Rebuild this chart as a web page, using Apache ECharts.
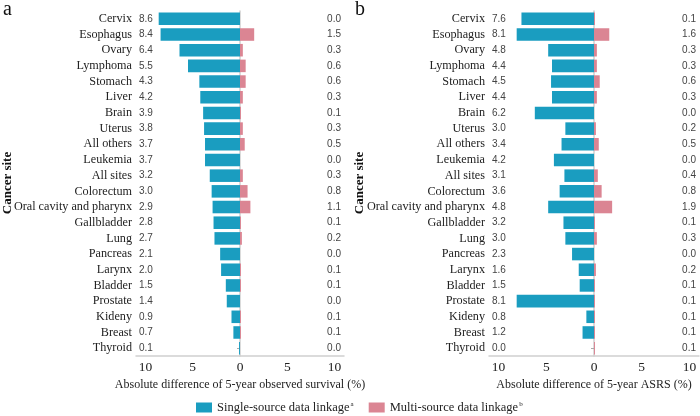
<!DOCTYPE html>
<html>
<head>
<meta charset="utf-8">
<script src="https://cdn.jsdelivr.net/npm/echarts@6/dist/echarts.min.js"></script>
<style>html,body{margin:0;padding:0;background:#fff}#c{width:700px;height:416px}</style>
</head>
<body>
<div id="c"></div>
<script>
const categories = ['Cervix','Esophagus','Ovary','Lymphoma','Stomach','Liver','Brain','Uterus','All others','Leukemia','All sites','Colorectum','Oral cavity and pharynx','Gallbladder','Lung','Pancreas','Larynx','Bladder','Prostate','Kideny','Breast','Thyroid'];
const survivalSingle = [8.6,8.4,6.4,5.5,4.3,4.2,3.9,3.8,3.7,3.7,3.2,3.0,2.9,2.8,2.7,2.1,2.0,1.5,1.4,0.9,0.7,0.1];
const survivalMulti  = [0.0,1.5,0.3,0.6,0.6,0.3,0.1,0.3,0.5,0.0,0.3,0.8,1.1,0.1,0.2,0.0,0.1,0.1,0.0,0.1,0.1,0.0];
const asrsSingle = [7.6,8.1,4.8,4.4,4.5,4.4,6.2,3.0,3.4,4.2,3.1,3.6,4.8,3.2,3.0,2.3,1.6,1.5,8.1,0.8,1.2,0.0];
const asrsMulti  = [0.1,1.6,0.3,0.3,0.6,0.3,0.0,0.2,0.5,0.0,0.4,0.8,1.9,0.1,0.3,0.0,0.2,0.1,0.1,0.1,0.1,0.1];
const xTicks = [-10,-5,0,5,10];
const seriesNames = ['Single-source data linkage','Multi-source data linkage'];
const supMarks = ['a','b'];

const TEAL = '#1a9dc0';
const PINK = '#db8593';
const SERIF = 'Liberation Serif';
const SANS = 'Liberation Sans';
const AXC = '#cfcfcf';

const chart = echarts.init(document.getElementById('c'), null, {renderer:'canvas'});

const grids = [
  {left:136, top:11, width:208, height:345},
  {left:489, top:11, width:210, height:345}
];
const xNames = ['Absolute difference of 5-year observed survival (%)', 'Absolute difference of 5-year ASRS (%)'];
const singles = [survivalSingle, asrsSingle];
const multis = [survivalMulti, asrsMulti];

const xAxis = [], yAxis = [], series = [];
grids.forEach((g, i) => {
  xAxis.push({
    type:'value', gridIndex:i, min:-11, max:11,
    axisLine:{show:true, lineStyle:{color:AXC, width:1.5}},
    axisTick:{show:false},
    splitLine:{show:false},
    axisLabel:{customValues:xTicks, formatter:v=>String(Math.abs(v)), color:'#222', fontFamily:SERIF, fontSize:13.5, margin:4},
    name:xNames[i], nameLocation:'middle', nameGap:16,
    nameTextStyle:{color:'#222', fontFamily:SERIF, fontSize:12}
  });
  yAxis.push({
    type:'category', gridIndex:i, data:categories, inverse:true,
    axisLine:{show:true, lineStyle:{color:AXC, width:1.5}},
    axisTick:{show:true, alignWithLabel:true, interval:0, length:3, lineStyle:{color:'#aaa'}},
    axisLabel:{interval:0, color:'#222', fontFamily:SERIF, fontSize:12.2, margin:4}
  });
  yAxis.push({
    type:'category', gridIndex:i, data:categories, inverse:true, position:'left',
    axisLine:{show:false}, axisTick:{show:false},
    axisLabel:{interval:0, inside:true, margin:3, color:'#444', fontFamily:SANS, fontSize:10,
      formatter:(v, idx)=>singles[i][idx].toFixed(1)}
  });
  yAxis.push({
    type:'category', gridIndex:i, data:categories, inverse:true, position:'right',
    axisLine:{show:false}, axisTick:{show:false},
    axisLabel:{interval:0, inside:true, margin:3, color:'#444', fontFamily:SANS, fontSize:10,
      formatter:(v, idx)=>multis[i][idx].toFixed(1)}
  });
  series.push({
    name:seriesNames[0], type:'bar', xAxisIndex:i, yAxisIndex:i*3,
    data:singles[i].map(v=>-v), barWidth:'80%', barGap:'-100%',
    itemStyle:{color:TEAL},
    silent:true
  });
  series.push({
    name:seriesNames[1], type:'bar', xAxisIndex:i, yAxisIndex:i*3,
    data:multis[i].slice(), barWidth:'80%', barGap:'-100%',
    itemStyle:{color:PINK},
    silent:true
  });
});

chart.setOption({
  animation:false,
  grid:grids,
  xAxis, yAxis, series,
  legend:{
    data:seriesNames, top:396, left:191, icon:'rect', itemWidth:16, itemHeight:10, itemGap:15,
    selectedMode:false,
    formatter:name=>name + '{sup|' + supMarks[seriesNames.indexOf(name)] + '}',
    textStyle:{color:'#222', fontFamily:SERIF, fontSize:12.5,
      rich:{sup:{fontSize:7, fontFamily:SERIF, color:'#222', verticalAlign:'top', padding:[0,0,6,1]}}}
  },
  graphic:[
    {type:'text', left:3, top:0, style:{text:'a', fontFamily:SERIF, fontSize:20, fill:'#111'}},
    {type:'text', left:355, top:0, style:{text:'b', fontFamily:SERIF, fontSize:20, fill:'#111'}},
    {type:'text', x:8, y:183, rotation:Math.PI/2, style:{text:'Cancer site', fontFamily:SERIF, fontSize:13, fontWeight:'bold', fill:'#111', align:'center', verticalAlign:'middle'}},
    {type:'text', x:360, y:183, rotation:Math.PI/2, style:{text:'Cancer site', fontFamily:SERIF, fontSize:13, fontWeight:'bold', fill:'#111', align:'center', verticalAlign:'middle'}}
  ]
});
</script>
</body>
</html>
